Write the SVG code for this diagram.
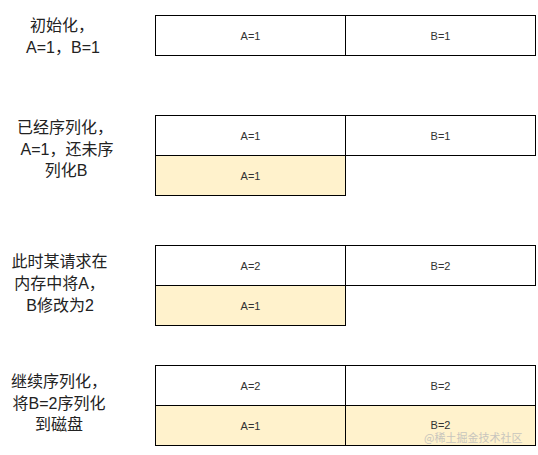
<svg xmlns="http://www.w3.org/2000/svg" width="538" height="455" viewBox="0 0 538 455">
<style>
.cell{fill:#ffffff;stroke:#000000;stroke-width:1}
.disk{fill:#fff2cc;stroke:#000000;stroke-width:1}
.ct{font-family:"Liberation Sans","Noto Sans CJK SC",sans-serif;font-size:11px;fill:#333333;text-anchor:middle}
.lb{font-family:"Liberation Sans","Noto Sans CJK SC",sans-serif;font-size:16px;fill:#222222;text-anchor:middle}
.wm{font-family:"Noto Sans CJK SC",sans-serif;font-size:11px;fill:#bbbbbb;opacity:0.8}
</style>
<rect width="538" height="455" fill="#ffffff"/>
<g id="label1">
<text class="lb" x="62" y="31">初始化，</text>
<text class="lb" x="63" y="53">A=1，B=1</text>
</g>
<g id="state1">
<rect class="cell" x="155.5" y="15.5" width="190" height="40"/>
<rect class="cell" x="345.5" y="15.5" width="190" height="40"/>
<text class="ct" x="250.5" y="39.5">A=1</text>
<text class="ct" x="440.5" y="39.5">B=1</text>
</g>
<g id="label2">
<text class="lb" x="65" y="133">已经序列化，</text>
<text class="lb" x="67" y="154.5">A=1，还未序</text>
<text class="lb" x="66" y="176">列化B</text>
</g>
<g id="state2">
<rect class="cell" x="155.5" y="115.5" width="190" height="40"/>
<rect class="cell" x="345.5" y="115.5" width="190" height="40"/>
<rect class="disk" x="155.5" y="155.5" width="190" height="40"/>
<text class="ct" x="250.5" y="139.5">A=1</text>
<text class="ct" x="440.5" y="139.5">B=1</text>
<text class="ct" x="250.5" y="179.5">A=1</text>
</g>
<g id="label3">
<text class="lb" x="59.5" y="267">此时某请求在</text>
<text class="lb" x="59.5" y="289">内存中将A，</text>
<text class="lb" x="60" y="311">B修改为2</text>
</g>
<g id="state3">
<rect class="cell" x="155.5" y="245.5" width="190" height="40"/>
<rect class="cell" x="345.5" y="245.5" width="190" height="40"/>
<rect class="disk" x="155.5" y="285.5" width="190" height="40"/>
<text class="ct" x="250.5" y="269.5">A=2</text>
<text class="ct" x="440.5" y="269.5">B=2</text>
<text class="ct" x="250.5" y="309.5">A=1</text>
</g>
<g id="label4">
<text class="lb" x="59" y="387">继续序列化，</text>
<text class="lb" x="59" y="409">将B=2序列化</text>
<text class="lb" x="59" y="430">到磁盘</text>
</g>
<g id="state4">
<rect class="cell" x="155.5" y="365.5" width="190" height="40"/>
<rect class="cell" x="345.5" y="365.5" width="190" height="40"/>
<rect class="disk" x="155.5" y="405.5" width="190" height="40"/>
<rect class="disk" x="345.5" y="405.5" width="190" height="40"/>
<text class="ct" x="250.5" y="429.5">A=1</text>
<text class="ct" x="250.5" y="389.5">A=2</text>
<text class="ct" x="440.5" y="389.5">B=2</text>
<text class="ct" x="440.5" y="428.5">B=2</text>
</g>
<g id="connectors"></g>
<text class="wm" x="424" y="442">@稀土掘金技术社区</text>
</svg>
